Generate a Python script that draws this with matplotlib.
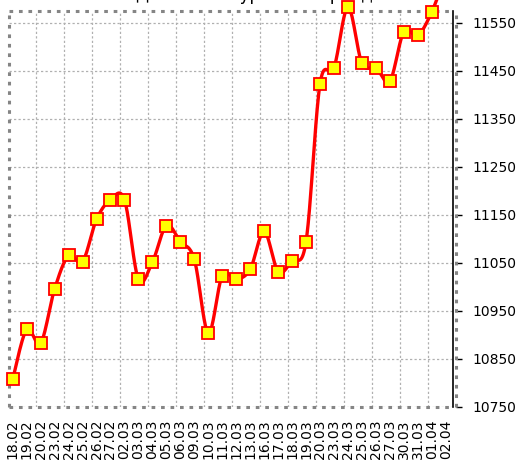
import numpy as np
import matplotlib.pyplot as plt
from matplotlib.ticker import FixedLocator

dates = ['18.02', '19.02', '20.02', '23.02', '24.02', '25.02', '26.02', '27.02',
         '02.03', '03.03', '04.03', '05.03', '06.03', '09.03', '10.03', '11.03',
         '12.03', '13.03', '16.03', '17.03', '18.03', '19.03', '20.03', '23.03',
         '24.03', '25.03', '26.03', '27.03', '30.03', '31.03', '01.04', '02.04']
values = [10807, 10911, 10882, 10995, 11065, 11052, 11140, 11181,
          11181, 11015, 11051, 11127, 11094, 11057, 10903, 11023,
          11015, 11036, 11115, 11031, 11054, 11094, 11422, 11456,
          11582, 11465, 11456, 11428, 11531, 11523, 11572, 11650]
yticks = [10750, 10850, 10950, 11050, 11150, 11250, 11350, 11450, 11550]


def smooth(x, y, n=20):
    # catmull-rom through the points, like a spreadsheet "smoothed line"
    x = np.asarray(x, float)
    y = np.asarray(y, float)
    px = np.concatenate([[x[0]], x, [x[-1]]])
    py = np.concatenate([[y[0]], y, [y[-1]]])
    t = np.linspace(0, 1, n, endpoint=False)
    xs, ys = [], []
    for i in range(1, len(px) - 2):
        for p, out in ((px, xs), (py, ys)):
            p0, p1, p2, p3 = p[i - 1], p[i], p[i + 1], p[i + 2]
            out.extend(0.5 * (2 * p1 + (p2 - p0) * t
                              + (2 * p0 - 5 * p1 + 4 * p2 - p3) * t ** 2
                              + (3 * p1 - p0 - 3 * p2 + p3) * t ** 3))
    xs.append(x[-1])
    ys.append(y[-1])
    return np.array(xs), np.array(ys)


fig = plt.figure(figsize=(5.29, 4.62), dpi=100)
ax = fig.add_axes([8.5 / 529, 55.3 / 462, 444.5 / 529, 395.7 / 462])

idx = np.arange(len(dates))
sx, sy = smooth(idx, values)
ax.plot(sx, sy, color='#ff0000', lw=2.4, clip_on=False, zorder=3)
ax.plot(idx, values, ls='none', marker='s', ms=8, mfc='#ffff00', mec='#ff0000',
        mew=1.3, clip_on=False, zorder=4)

ax.set_xlim(-0.3, 31.52)
ax.set_ylim(10750, 11574)

ax.set_xticks(idx)
ax.set_xticklabels(dates, rotation=90, fontsize=10)
ax.xaxis.set_minor_locator(FixedLocator(np.arange(1.7, 31, 2)))
ax.tick_params(axis='x', which='both', length=0, pad=9)

ax.yaxis.tick_right()
ax.set_yticks(yticks)
ax.set_yticklabels([str(v) for v in yticks], fontsize=13.5)
ax.tick_params(axis='y', direction='out', length=4, width=1, pad=8, colors='black')

ax.grid(True, which='major', axis='y', ls=(0, (1.8, 1.8)), color='#b0b0b0', lw=0.9)
ax.grid(True, which='minor', axis='x', ls=(0, (1.8, 1.8)), color='#b0b0b0', lw=0.9)

for side in ['left', 'top', 'bottom', 'right']:
    ax.spines[side].set_color('#858585')
    ax.spines[side].set_linewidth(2.2)
    ax.spines[side].set_linestyle((0, (1.2, 1.9)))
    ax.spines[side].set_capstyle('butt')
ax.spines['right'].set_position(('outward', 2))
ax.plot([1, 1], [0, 1], transform=ax.transAxes, color='black', lw=1.2,
        clip_on=False, zorder=5)

fig.text(0.48, 1.0, 'Динамика курса за период', ha='center', va='baseline',
         fontsize=12)

fig.savefig('out.png', dpi=100)
